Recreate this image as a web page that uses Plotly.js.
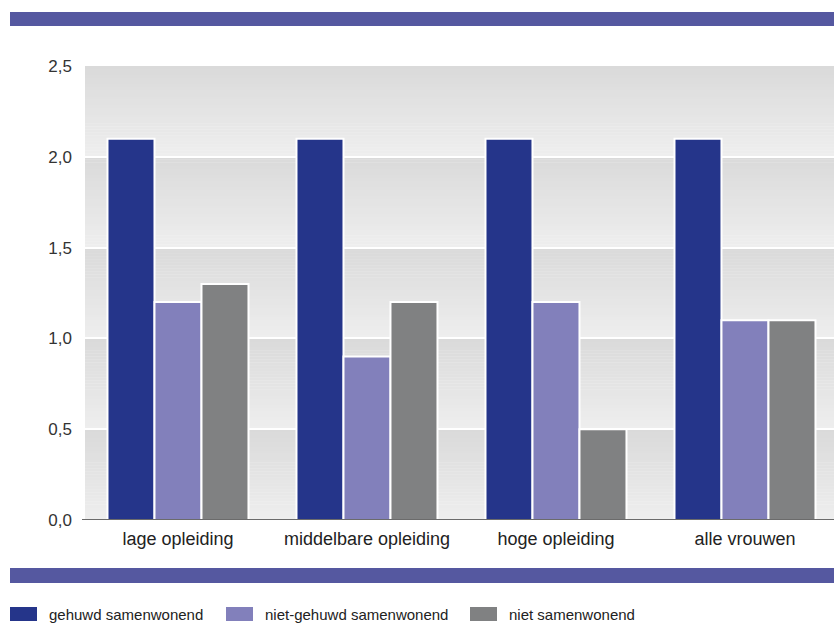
<!DOCTYPE html>
<html>
<head>
<meta charset="utf-8">
<script src="https://cdn.plot.ly/plotly-3.0.1.min.js"></script>
<style>html,body{margin:0;padding:0;background:#fff}#chart{width:834px;height:625px}</style>
</head>
<body>
<div id="chart"></div>
<script>
// ---- data ----
const categories = ["lage opleiding", "middelbare opleiding", "hoge opleiding", "alle vrouwen"];
const seriesNames = ["gehuwd samenwonend", "niet-gehuwd samenwonend", "niet samenwonend"];
const gehuwdSamenwonend = [2.1, 2.1, 2.1, 2.1];
const nietGehuwdSamenwonend = [1.2, 0.9, 1.2, 1.1];
const nietSamenwonend = [1.3, 1.2, 0.5, 1.1];
const yTickVals = [0, 0.5, 1, 1.5, 2, 2.5];
const yTickText = ["0,0", "0,5", "1,0", "1,5", "2,0", "2,5"];

// ---- styling ----
const colors = ["#25358a", "#8280bb", "#808182"];
const W = 834, H = 625;
const px = x => x / W;
const py = y => 1 - y / H;
const FONT = "Liberation Sans, Arial, sans-serif";

const values = [gehuwdSamenwonend, nietGehuwdSamenwonend, nietSamenwonend];
const traces = values.map((v, i) => ({
  type: "bar",
  x: categories,
  y: v,
  name: seriesNames[i],
  marker: {color: colors[i], line: {color: "#ffffff", width: 2}},
  hoverinfo: "skip",
  showlegend: false
}));

const shapes = [];
// gradient bands between gridlines
const steps = 30;
for (let b = 0; b < yTickVals.length - 1; b++) {
  const y0 = yTickVals[b], y1 = yTickVals[b + 1];
  for (let s = 0; s < steps; s++) {
    const t = s / (steps - 1); // 0 = bottom, 1 = top
    const c = Math.round(238 - (238 - 218) * t);
    shapes.push({
      type: "rect", xref: "paper", yref: "y", layer: "below",
      x0: px(85), x1: 1,
      y0: y0 + (y1 - y0) * s / steps, y1: y0 + (y1 - y0) * (s + 1) / steps + 0.002,
      fillcolor: `rgb(${c},${c},${c})`, line: {width: 0}
    });
  }
}
// top & bottom bands
shapes.push({type: "rect", xref: "paper", yref: "paper", x0: px(10), x1: 1, y0: py(26), y1: py(12), fillcolor: "#5558a0", line: {width: 0}});
shapes.push({type: "rect", xref: "paper", yref: "paper", x0: px(10), x1: 1, y0: py(583), y1: py(568), fillcolor: "#5558a0", line: {width: 0}});

// custom legend
const legX = [10, 226, 470];
const annotations = [];
seriesNames.forEach((n, i) => {
  shapes.push({type: "rect", xref: "paper", yref: "paper", x0: px(legX[i]), x1: px(legX[i] + 27), y0: py(621), y1: py(607), fillcolor: colors[i], line: {width: 0}});
  annotations.push({xref: "paper", yref: "paper", x: px(legX[i] + 37), y: py(614), xanchor: "left", yanchor: "middle", text: n, showarrow: false, font: {family: FONT, size: 15, color: "#222"}});
});

const layout = {
  width: W, height: H,
  margin: {l: 0, r: 0, t: 0, b: 0, pad: 0},
  paper_bgcolor: "#ffffff",
  plot_bgcolor: "rgba(0,0,0,0)",
  barmode: "group",
  bargap: 0.254,
  bargroupgap: 0,
  separators: ",.",
  xaxis: {
    domain: [px(85), 1],
    range: [-0.492, 3.471],
    type: "category",
    showgrid: false,
    zeroline: false,
    showline: false,
    ticks: "",
    ticklabelstandoff: 6,
    tickfont: {family: FONT, size: 18, color: "#222"}
  },
  yaxis: {
    domain: [py(520), py(66)],
    range: [0, 2.5],
    tickvals: yTickVals,
    ticktext: yTickText,
    showgrid: true,
    gridcolor: "#ffffff",
    gridwidth: 2,
    zeroline: false,
    showline: false,
    ticks: "",
    ticklabelstandoff: 12,
    tickfont: {family: FONT, size: 17, color: "#333"}
  },
  shapes: shapes,
  annotations: annotations
};
// axis baseline
layout.shapes.push({type: "line", xref: "paper", yref: "y", x0: px(82), x1: 1, y0: 0, y1: 0, line: {color: "#6b6b6b", width: 2}, layer: "above"});

Plotly.newPlot("chart", traces, layout, {displayModeBar: false, staticPlot: true});
</script>
</body>
</html>
